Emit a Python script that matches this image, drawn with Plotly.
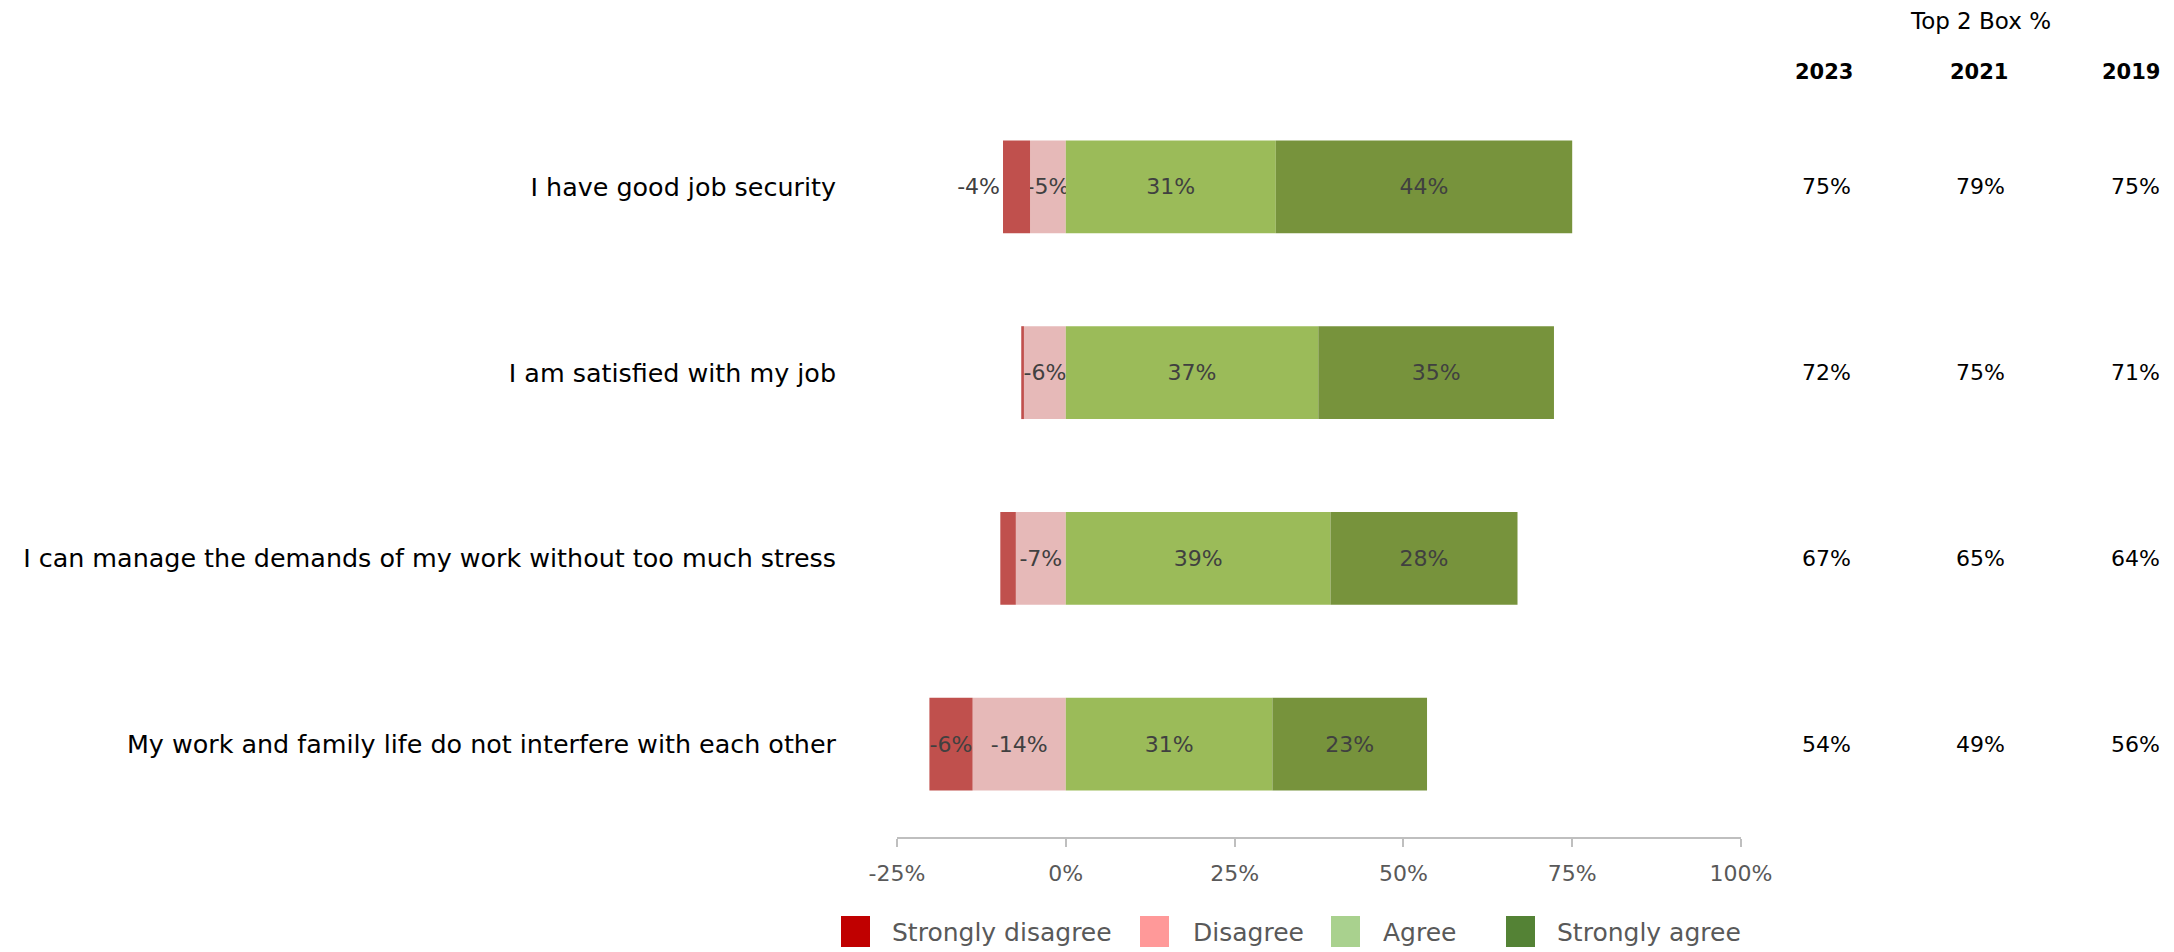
import plotly.graph_objects as go

# ---------------- data ----------------
categories = [
    "I have good job security",
    "I am satisfied with my job",
    "I can manage the demands of my work without too much stress",
    "My work and family life do not interfere with each other",
]
strongly_disagree = [4.0, 0.4, 2.3, 6.4]
disagree = [5.3, 6.2, 7.4, 13.8]
agree = [31.1, 37.4, 39.2, 30.6]
strongly_agree = [43.9, 34.9, 27.7, 22.9]

top2_years = ["2023", "2021", "2019"]
top2_2023 = [75, 72, 67, 54]
top2_2021 = [79, 75, 65, 49]
top2_2019 = [75, 71, 64, 56]

x_tickvals = [-25, 0, 25, 50, 75, 100]
x_ticktext = ["-25%", "0%", "25%", "50%", "75%", "100%"]

legend_names = ["Strongly disagree", "Disagree", "Agree", "Strongly agree"]

# ---------------- style ----------------
OFF = 8  # default page body margin
W, H = 2174 - OFF, 952 - OFF
ML = 897 - OFF
MT = 94 - OFF
MR = W - (1741 - OFF)
MB = H - (837 - OFF)
PW, PH = W - ML - MR, H - MT - MB
FONT = "DejaVu Sans"

bar_colors = {"sd": "#C0504D", "d": "#E6B9B8", "a": "#9BBB59", "sa": "#77933C"}
legend_colors = ["#C00000", "#FF9999", "#A9D18E", "#548235"]


def px2x(page_px):
    return (page_px - OFF - ML) / PW


def px2y(page_py):
    return (H - MB - (page_py - OFF)) / PH


def neg_text(vals):
    return [f"-{round(v)}%" if v >= 3 else "" for v in vals]


def pos_text(vals):
    return [f"{round(v)}%" if v >= 3 else "" for v in vals]


def text_pos(vals):
    # narrow segments get their label just outside the bar end
    return ["inside" if v >= 5 else "outside" for v in vals]


fig = go.Figure()

common = dict(
    orientation="h",
    insidetextanchor="middle",
    textangle=0,
    constraintext="none",
    cliponaxis=False,
    textfont=dict(family=FONT, size=22, color="#404040"),
    showlegend=False,
    marker_line_width=0,
)

fig.add_trace(go.Bar(y=categories, x=[-v for v in disagree], text=neg_text(disagree),
                     textposition="inside",
                     name="Disagree", marker_color=bar_colors["d"], **common))
fig.add_trace(go.Bar(y=categories, x=[-v for v in strongly_disagree], text=neg_text(strongly_disagree),
                     textposition=text_pos(strongly_disagree),
                     name="Strongly disagree", marker_color=bar_colors["sd"], **common))
fig.add_trace(go.Bar(y=categories, x=agree, text=pos_text(agree),
                     textposition="inside",
                     name="Agree", marker_color=bar_colors["a"], **common))
fig.add_trace(go.Bar(y=categories, x=strongly_agree, text=pos_text(strongly_agree),
                     textposition="inside",
                     name="Strongly agree", marker_color=bar_colors["sa"], **common))

annotations = []
# Top 2 Box table
head_px = [1824, 1979, 2131]
val_px = [1826, 1980, 2135]
annotations.append(dict(x=px2x(1980), y=px2y(21), xref="paper", yref="paper", text="Top 2 Box %",
                        xanchor="center", yanchor="middle", showarrow=False,
                        font=dict(family=FONT, size=23, color="#000000")))
for yr, hx, vx, vals in zip(top2_years, head_px, val_px, [top2_2023, top2_2021, top2_2019]):
    annotations.append(dict(x=px2x(hx), y=px2y(72), xref="paper", yref="paper", text=f"<b>{yr}</b>",
                            xanchor="center", yanchor="middle", showarrow=False,
                            font=dict(family=FONT, size=21, color="#000000")))
    for cat, v in zip(categories, vals):
        annotations.append(dict(x=px2x(vx), y=cat, xref="paper", yref="y", text=f"{v}%",
                                xanchor="center", yanchor="middle", showarrow=False,
                                font=dict(family=FONT, size=22, color="#000000")))

# Legend (manual, to match large square swatches)
shapes = []
sw_px = [841, 1140, 1331, 1506]
txt_px = [890, 1191, 1381, 1555]
for name, col, sx, tx in zip(legend_names, legend_colors, sw_px, txt_px):
    shapes.append(dict(type="rect", xref="paper", yref="paper",
                       x0=px2x(sx), x1=px2x(sx + 29), y0=px2y(947), y1=px2y(916),
                       fillcolor=col, line_width=0))
    annotations.append(dict(x=px2x(tx), y=px2y(932), xref="paper", yref="paper", text=name,
                            xanchor="left", yanchor="middle", showarrow=False,
                            font=dict(family=FONT, size=25, color="#595959")))

fig.update_layout(
    width=W, height=H,
    margin=dict(l=ML, r=MR, t=MT, b=MB, pad=0, autoexpand=False),
    barmode="relative",
    bargap=0.5,
    plot_bgcolor="white",
    paper_bgcolor="white",
    annotations=annotations,
    shapes=shapes,
    font=dict(family=FONT),
    xaxis=dict(
        range=[-25, 100],
        tickvals=x_tickvals, ticktext=x_ticktext,
        showgrid=False, zeroline=False,
        showline=True, linecolor="#BFBFBF", linewidth=1.5,
        ticks="outside", ticklen=8, tickcolor="#BFBFBF", tickwidth=1.5,
        tickfont=dict(family=FONT, size=22, color="#595959"),
        ticklabelstandoff=8,
        automargin=False,
        fixedrange=True,
    ),
    yaxis=dict(
        categoryorder="array", categoryarray=categories,
        autorange="reversed",
        showgrid=False, zeroline=False, showline=False, ticks="",
        tickfont=dict(family=FONT, size=25.4, color="#000000"),
        ticklabelstandoff=60,
        automargin=False,
        fixedrange=True,
    ),
)

fig.write_html("out.html")
